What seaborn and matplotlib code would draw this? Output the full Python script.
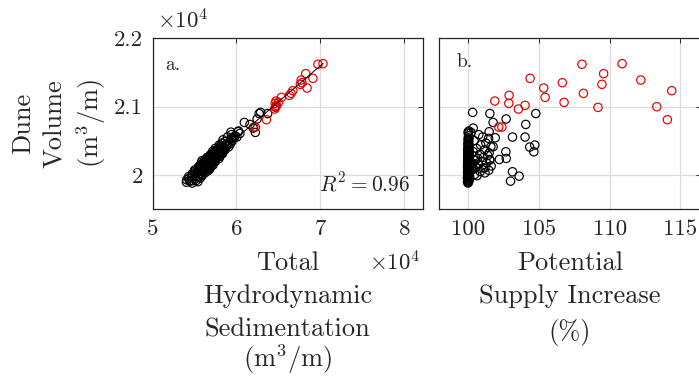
import numpy as np
import pandas as pd
import matplotlib
matplotlib.use("Agg")
import matplotlib.pyplot as plt
import seaborn as sns

# ---- data: dune volume (m3/m), total hydrodynamic sedimentation (m3/m),
# ---- potential supply increase (%)
black_dune = [
    19884, 19897, 19903, 19918, 19922, 19931, 19944, 19949, 19958, 19967,
    19972, 19979, 19986, 19991, 19998, 20004, 20009, 20013, 20021, 20026,
    20032, 20036, 20041, 20047, 20052, 20058, 20061, 20066, 20071, 20074,
    20079, 20083, 20088, 20092, 20097, 20101, 20104, 20109, 20113, 20117,
    20122, 20126, 20129, 20134, 20138, 20142, 20146, 20151, 20155, 20158,
    20163, 20167, 20171, 20176, 20179, 20184, 20188, 20193, 20197, 20202,
    20206, 20211, 20214, 20219, 20223, 20228, 20232, 20237, 20241, 20246,
    20251, 20255, 20259, 20264, 20268, 20273, 20277, 20282, 20287, 20291,
    20296, 20302, 20307, 20313, 20318, 20324, 20331, 20337, 20342, 20349,
    20356, 20362, 20369, 20376, 20383, 20391, 20398, 20406, 20414, 20423,
    20431, 20440, 20449, 20458, 20468, 20479, 20491, 20503, 20516, 20529,
    20543, 20558, 20574, 20591, 20609, 20628, 20645, 20138, 20212, 20087,
    20917, 20900, 20820, 20770, 20900, 20741, 20556, 20556, 20546, 20439,
    20410, 20341, 20341, 20244, 20229, 20049, 19985, 19912, 20220, 20107,
    20415, 20634, 20537, 20624, 20687,
]
black_sed = [
    54710, 54040, 55400, 54410, 55210, 54070, 55050, 54310, 55700, 54665,
    55470, 54315, 55360, 55900, 54785, 55930, 55085, 55885, 54735, 55760,
    55035, 56275, 55435, 56030, 54965, 55890, 56570, 55400, 56315, 55020,
    55935, 56515, 55450, 56250, 55740, 56755, 55460, 56265, 55965, 56655,
    55480, 56500, 55975, 56890, 55820, 56400, 57200, 56025, 56825, 55750,
    56665, 56035, 57165, 56430, 57005, 55830, 56960, 56450, 57470, 56295,
    56985, 56250, 57485, 56750, 57330, 56265, 57285, 56775, 57905, 56620,
    57205, 57675, 56495, 57525, 57005, 58030, 56850, 57545, 57255, 58055,
    56880, 57805, 57290, 58325, 57155, 57750, 58350, 57405, 58210, 57165,
    58095, 57480, 58630, 57800, 58625, 57475, 58515, 58135, 59075, 58040,
    58870, 57945, 58785, 59290, 58265, 59115, 58655, 59510, 58400, 59375,
    59700, 58930, 59820, 59395, 60405, 59335, 60230, 57000, 55900, 56800,
    62880, 63710, 62450, 60930, 62700, 61600, 60050, 59750, 59500, 58600,
    58300, 57900, 57600, 57100, 56900, 55500, 55100, 54600, 56700, 56000,
    58450, 60200, 59400, 62250, 62000,
]
black_supply = [
    99.98, 100.02, 99.95, 100.05, 100.00, 99.97, 100.08, 100.01, 99.94, 100.04,
    100.10, 99.99, 100.03, 100.62, 100.00, 99.96, 100.45, 100.06, 99.98, 100.02,
    101.18, 100.01, 99.95, 100.07, 100.85, 100.00, 100.03, 99.97, 101.45, 100.05,
    100.02, 99.98, 100.38, 100.04, 99.96, 100.01, 101.05, 100.06, 99.99, 100.55,
    100.03, 99.95, 100.00, 101.62, 100.08, 100.02, 99.97, 100.72, 100.04, 99.99,
    100.01, 100.32, 99.96, 100.05, 101.30, 100.00, 100.03, 99.98, 100.95, 100.06,
    100.02, 99.97, 100.48, 100.01, 100.04, 101.52, 99.99, 100.07, 100.00, 100.66,
    100.03, 99.96, 101.08, 100.05, 100.01, 99.98, 100.40, 100.04, 101.38, 100.00,
    100.06, 99.99, 100.82, 100.02, 99.97, 101.48, 100.05, 100.01, 100.35, 99.98,
    100.04, 100.00, 101.15, 100.03, 99.96, 100.58, 100.07, 100.02, 101.60, 99.99,
    100.05, 100.88, 100.01, 99.97, 101.25, 100.04, 100.00, 100.42, 100.03, 99.98,
    100.06, 101.02, 100.02, 100.75, 100.01, 99.99, 100.04, 100.30, 100.12, 100.20,
    100.31, 101.53, 102.68, 101.76, 104.78, 104.07, 103.13, 104.02, 101.91, 104.71,
    104.35, 104.64, 102.66, 102.69, 102.20, 103.13, 103.60, 102.99, 101.53, 101.18,
    101.76, 101.48, 101.44, 100.20, 100.35,
]

red_dune = [
    20702, 20702, 20810, 20966, 20990, 21000, 21020, 21049, 21063, 21083, 21137,
    21166, 21195, 21234, 21273, 21327, 21351, 21390, 21415, 21483, 21620, 21629,
]
red_sed = [
    62050, 62250, 63570, 64550, 64650, 64700, 64750, 64600, 65000, 64700, 65350,
    66300, 66500, 66700, 68400, 67600, 67800, 67700, 69100, 68250, 69700, 70300,
]
red_supply = [
    102.16, 102.38, 114.09, 103.55, 109.18, 113.34, 104.02, 102.87, 106.78, 101.88, 105.44,
    102.89, 108.15, 114.40, 105.34, 109.46, 106.66, 112.21, 104.38, 109.58, 108.05, 110.89,
]

r_squared = 0.96

black = pd.DataFrame({"dune": black_dune, "sed": black_sed, "supply": black_supply})
red = pd.DataFrame({"dune": red_dune, "sed": red_sed, "supply": red_supply})
both = pd.concat([black, red], ignore_index=True)

# ---- style
sns.set_style("white")
plt.rcParams.update({
    "font.family": ["cmr10", "DejaVu Serif"],
    "mathtext.fontset": "cm",
    "axes.formatter.use_mathtext": True,
    "axes.unicode_minus": False,
    "axes.edgecolor": "#262626",
    "axes.linewidth": 0.9,
    "xtick.direction": "in",
    "ytick.direction": "in",
    "xtick.top": True,
    "ytick.right": True,
    "xtick.major.size": 3.5,
    "ytick.major.size": 3.5,
    "xtick.major.width": 0.7,
    "ytick.major.width": 0.7,
    "xtick.color": "#262626",
    "ytick.color": "#262626",
    "text.color": "#262626",
    "axes.labelcolor": "#262626",
})

W, H = 699, 376
fig = plt.figure(figsize=(W / 100, H / 100), dpi=100)
ax_a = fig.add_axes([152.5 / W, 166.7 / H, 270.2 / W, 171 / H])
ax_b = fig.add_axes([439 / W, 166.7 / H, 262 / W, 171 / H])

tick_fs = 16.5
label_fs = 19
label_ls = 1.52
circle = dict(marker="o", s=36, facecolor="none", linewidth=0.85, legend=False)

# panel a: dune volume against sedimentation, with linear fit
sns.scatterplot(data=black, x="sed", y="dune", ax=ax_a, edgecolor="black", zorder=3, **circle)
sns.scatterplot(data=red, x="sed", y="dune", ax=ax_a, edgecolor="#e00000", zorder=4, **circle)
sns.regplot(data=both, x="sed", y="dune", ax=ax_a, scatter=False, ci=None,
            truncate=True, color="black", line_kws={"lw": 0.7, "zorder": 5})

# panel b: dune volume against potential supply increase
sns.scatterplot(data=black, x="supply", y="dune", ax=ax_b, edgecolor="black", zorder=3, **circle)
sns.scatterplot(data=red, x="supply", y="dune", ax=ax_b, edgecolor="#e00000", zorder=4, **circle)

for ax in (ax_a, ax_b):
    ax.set_ylim(19500, 22000)
    ax.set_yticks([20000, 21000, 22000])
    ax.grid(True, color="#dcdcdc", lw=0.9)
    ax.set_axisbelow(True)
    ax.tick_params(labelsize=tick_fs, pad=7)

ax_a.set_xlim(50000, 82170)
ax_a.set_xticks([50000, 60000, 70000, 80000])
ax_a.set_xticklabels(["5", "6", "7", "8"])
ax_a.set_yticklabels(["2", "2.1", "2.2"])

ax_b.set_xlim(97.93, 116.47)
ax_b.set_xticks([100, 105, 110, 115])
ax_b.set_xticklabels(["100", "105", "110", "115"])
ax_b.set_yticklabels([])

# axis titles; the unit lines (with a superscript) are set as separate
# lines so that the line pitch stays even
ax_a.set_ylabel("Dune\nVolume", fontsize=label_fs, linespacing=1.42,
                ha="center", va="center")
ax_a.yaxis.set_label_coords(-0.42, 0.5)
ax_a.text(-0.228, 0.5, "(m$^3$/m)", transform=ax_a.transAxes, fontsize=label_fs,
          rotation=90, ha="center", va="center", rotation_mode="anchor")

ax_a.set_xlabel("Total\nHydrodynamic\nSedimentation", fontsize=label_fs,
                linespacing=label_ls, labelpad=9)
ax_a.text(0.5, -0.92, "(m$^3$/m)", transform=ax_a.transAxes, fontsize=label_fs,
          ha="center", va="baseline")
ax_b.set_xlabel("Potential\nSupply Increase\n(%)", fontsize=label_fs,
                linespacing=label_ls, labelpad=9)
ax_b.set_ylabel("")

ax_a.text(0.015, 1.105, r"$\times10^4$", transform=ax_a.transAxes, fontsize=16.5,
          ha="left", va="center")
ax_a.text(0.99, -0.31, r"$\times10^4$", transform=ax_a.transAxes, fontsize=16.5,
          ha="right", va="center")
ax_a.text(0.046, 0.845, "a.", transform=ax_a.transAxes, fontsize=14, ha="left", va="center")
ax_b.text(0.065, 0.86, "b.", transform=ax_b.transAxes, fontsize=14, ha="left", va="center")
ax_a.text(0.953, 0.154, rf"$R^2 = {r_squared:.2f}$", transform=ax_a.transAxes,
          fontsize=15.5, ha="right", va="center")

fig.savefig("out.png", dpi=100)
